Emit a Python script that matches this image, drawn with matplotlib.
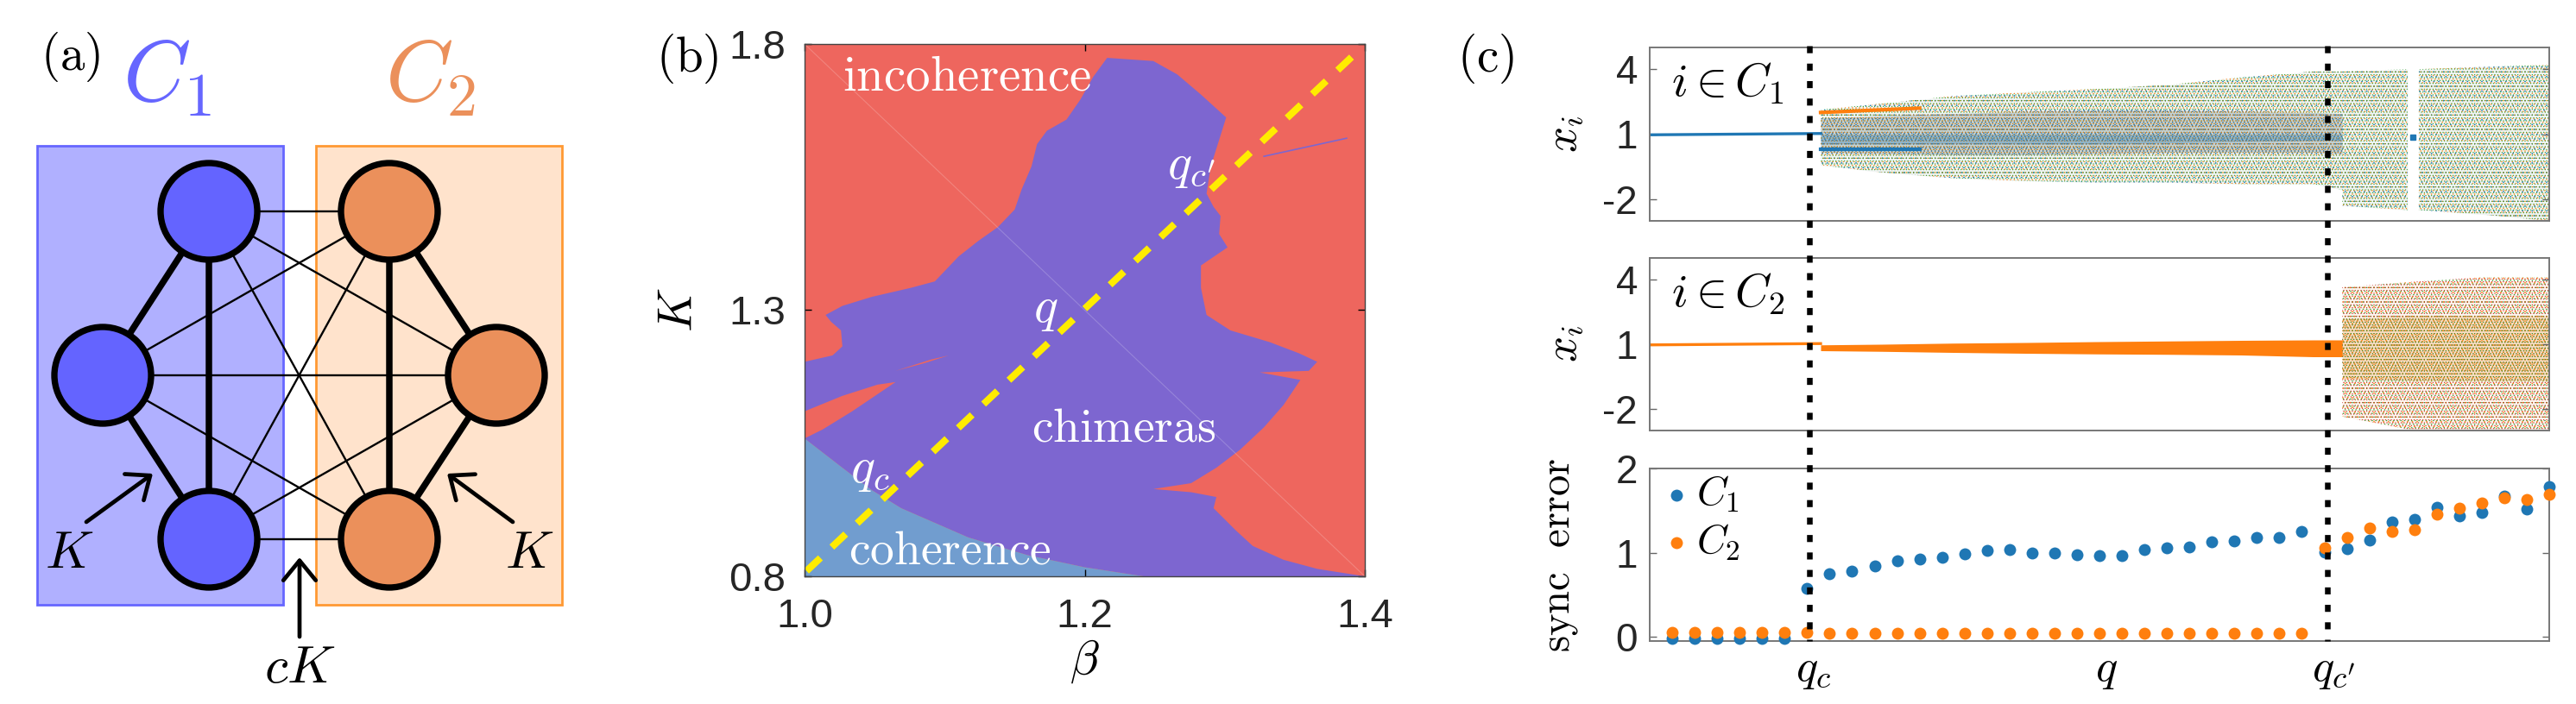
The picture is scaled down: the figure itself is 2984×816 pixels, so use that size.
import numpy as np
import matplotlib
matplotlib.use("Agg")
import matplotlib.pyplot as plt
from matplotlib.patches import Circle, Rectangle

W = 2984
H = 816
BLUE = "#1f77b4"
ORANGE = "#ff7f0e"
GREEN = "#2ca02c"
RED = "#d62728"

# panel (a): network drawn in figure pixels
C1_NODES = [(242, 245), (119, 435), (242, 625)]
C2_NODES = [(451, 245), (575, 435), (451, 625)]
THICK_EDGES = [(0, 1), (0, 2), (1, 2)]

# panel (b): region outlines (beta, K)
chimera_beta = [1.000, 1.020, 1.027, 1.026, 1.019, 1.015, 1.027, 1.048, 1.076, 1.093, 1.110, 1.124,
                1.138, 1.150, 1.155, 1.162, 1.166, 1.173, 1.187, 1.197, 1.206, 1.216, 1.249, 1.266,
                1.283, 1.301, 1.296, 1.290, 1.287, 1.292, 1.297, 1.296, 1.302, 1.283, 1.283, 1.287,
                1.304, 1.332, 1.353, 1.366, 1.360, 1.325, 1.354, 1.342, 1.328, 1.311, 1.294, 1.276,
                1.249, 1.276, 1.294, 1.292, 1.308, 1.320, 1.342, 1.366, 1.400, 1.242]
chimera_K = [1.203, 1.215, 1.232, 1.262, 1.278, 1.291, 1.308, 1.325, 1.342, 1.354, 1.401, 1.430,
             1.456, 1.489, 1.527, 1.570, 1.612, 1.637, 1.658, 1.696, 1.738, 1.774, 1.768, 1.743,
             1.705, 1.662, 1.620, 1.570, 1.519, 1.494, 1.477, 1.443, 1.418, 1.384, 1.342, 1.291,
             1.262, 1.240, 1.219, 1.203, 1.186, 1.183, 1.169, 1.122, 1.080, 1.038, 1.004, 0.975,
             0.964, 0.958, 0.949, 0.928, 0.886, 0.857, 0.831, 0.814, 0.800, 0.800]
coherence_beta = [1.000, 1.027, 1.048, 1.069, 1.117, 1.159, 1.200, 1.242, 1.000]
coherence_K = [1.059, 1.004, 0.962, 0.928, 0.873, 0.840, 0.817, 0.800, 0.800]
wedge_beta = [1.000, 1.013, 1.034, 1.065, 1.052, 1.027, 1.000]
wedge_K = [1.059, 1.076, 1.110, 1.165, 1.160, 1.139, 1.110]
sliver_beta = [1.065, 1.090, 1.103, 1.085]
sliver_K = [1.186, 1.207, 1.215, 1.200]
spur_beta = [1.328, 1.387]
spur_K = [1.589, 1.623]
route_beta = [1.0014, 1.3944]
route_K = [0.810, 1.785]

# panel (c): outer limits and denser core of the x_i clouds, by q position
c1_q = [7.6, 10.3, 13.5, 16.7, 19.9, 23.1, 26.3, 29.5, 30.8]
c1_top = [2.13, 2.41, 2.76, 2.93, 3.09, 3.28, 3.62, 3.89, 3.89]
c1_bottom = [-0.43, -0.76, -1.03, -1.16, -1.23, -1.23, -1.30, -1.30, -1.57]
c1_core_top = [1.75, 1.85, 1.95, 2.05, 2.10, 2.10, 2.05, 2.00, 1.95]
c1_core_bottom = [0.15, 0.10, 0.05, 0.05, 0.10, 0.15, 0.15, 0.15, 0.10]
c1_mid_top = [1.00, 1.00, 1.00, 1.00, 1.00, 1.00, 1.00, 1.00, 1.00]
c1_mid_bottom = [0.55, 0.55, 0.55, 0.55, 0.55, 0.60, 0.65, 0.70, 0.70]
c1_late_q = [30.8, 33.7]
c1_late_top = [3.90, 4.00]
c1_late_bottom = [-2.30, -2.50]
c1_last_q = [34.2, 37.0, 40.0]
c1_last_top = [4.00, 4.10, 4.20]
c1_last_bottom = [-2.50, -2.70, -3.00]
strand_q = [7.6, 12.0]
strand_high = [2.00, 2.20]
strand_low = [0.30, 0.30]
blob_q = [33.95]
blob_x = [0.85]
c2_q = [7.6, 10.3, 13.5, 16.7, 19.9, 23.1, 26.3, 29.5, 30.8]
c2_top = [0.97, 1.00, 1.05, 1.08, 1.12, 1.15, 1.18, 1.20, 1.20]
c2_bottom = [0.70, 0.67, 0.62, 0.58, 0.55, 0.53, 0.50, 0.42, 0.42]
c2_late_q = [30.8, 34.0, 37.0, 40.0]
c2_late_top = [3.65, 3.90, 4.10, 4.10]
c2_late_bottom = [-2.35, -3.00, -3.00, -3.00]
c2_core_top = [2.20, 2.30, 2.30, 2.30]
c2_core_bottom = [-0.60, -0.70, -0.70, -0.70]
flat_q = [0.0, 7.6]
flat_c1 = [0.97, 1.03]
flat_c2 = [0.97, 1.03]

# panel (c): synchronization error
sync_q = list(range(1, 41))
sync_c1 = [-0.02, -0.02, -0.02, -0.02, -0.02, -0.02, 0.58, 0.75, 0.78, 0.84,
           0.90, 0.92, 0.94, 0.985, 1.03, 1.035, 1.00, 0.995, 0.97, 0.96,
           0.96, 1.04, 1.06, 1.07, 1.13, 1.14, 1.175, 1.18, 1.25, 1.01,
           1.045, 1.15, 1.36, 1.40, 1.54, 1.44, 1.475, 1.67, 1.52, 1.78]
sync_c2 = [0.05, 0.05, 0.05, 0.05, 0.05, 0.05, 0.05, 0.04, 0.04, 0.04,
           0.04, 0.04, 0.04, 0.04, 0.04, 0.04, 0.04, 0.04, 0.04, 0.04,
           0.04, 0.04, 0.04, 0.04, 0.04, 0.04, 0.04, 0.04, 0.04, 1.055,
           1.18, 1.295, 1.25, 1.27, 1.455, 1.525, 1.585, 1.65, 1.635, 1.695]
q_marks = [7.3, 20.3, 30.4]
q_labels = ["$q_c$", "$q$", "$q_{c'}$"]

plt.rcParams["font.family"] = ["Liberation Sans", "DejaVu Sans"]
plt.rcParams["mathtext.fontset"] = "cm"
plt.rcParams["hatch.linewidth"] = 0.4


# axes from a box given in figure pixels
def box(left, top, right, bottom):
    return [left / W, 1 - bottom / H, (right - left) / W, (bottom - top) / H]


# the clouds are too dense to read dot by dot, so each is a tinted band with dotted hatching
def cloud(ax, q, top, bottom, tint, alpha, colors, hatches):
    ax.fill_between(q, bottom, top, color=tint, alpha=alpha, linewidth=0)
    for color, hatch in zip(colors, hatches):
        ax.fill_between(q, bottom, top, facecolor="none", edgecolor=color, hatch=hatch, linewidth=0)


fig = plt.figure(figsize=(W / 100, H / 100), dpi=100)

# (a)
over = fig.add_axes([0, 0, 1, 1])
over.set_xlim(0, W)
over.set_ylim(H, 0)
over.axis("off")
over.add_patch(Rectangle((43, 169), 285, 532, facecolor="#b0b0ff", edgecolor="#6666ff", linewidth=2))
over.add_patch(Rectangle((366, 169), 285, 532, facecolor="#ffe3cc", edgecolor="#ff9933", linewidth=2))
for a in C1_NODES:
    for b in C2_NODES:
        over.plot([a[0], b[0]], [a[1], b[1]], color="black", linewidth=1.7, zorder=2)
for nodes in (C1_NODES, C2_NODES):
    for i, j in THICK_EDGES:
        over.plot([nodes[i][0], nodes[j][0]], [nodes[i][1], nodes[j][1]], color="black", linewidth=5.4, zorder=2)
for nodes, color in ((C1_NODES, "#6464ff"), (C2_NODES, "#eb905b")):
    for p in nodes:
        over.add_patch(Circle(p, 56, facecolor=color, edgecolor="black", linewidth=5.3, zorder=3))

for start, end in (((100, 605), (177, 549)), ((594, 605), (518, 549)), ((347, 738), (347, 646))):
    over.annotate("", xy=end, xytext=start,
                  arrowprops=dict(arrowstyle="->,head_length=0.55,head_width=0.45", color="black",
                                  linewidth=3.4, mutation_scale=30, shrinkA=0, shrinkB=0))

over.text(82, 66, r"$\mathrm{(a)}$", fontsize=41, ha="center", va="center")
over.text(193, 92, "$C_1$", fontsize=72, color="#6666ff", ha="center", va="center")
over.text(498, 92, "$C_2$", fontsize=72, color="#eb905b", ha="center", va="center")
over.text(80, 643, "$K$", fontsize=44, ha="center", va="center")
over.text(613, 643, "$K$", fontsize=44, ha="center", va="center")
over.text(347, 776, "$cK$", fontsize=44, ha="center", va="center")
over.text(796, 68, r"$\mathrm{(b)}$", fontsize=41, ha="center", va="center")
over.text(1721, 68, r"$\mathrm{(c)}$", fontsize=41, ha="center", va="center")

# (b)
ax_b = fig.add_axes(box(932, 51, 1581, 668))
ax_b.set_facecolor("#ee665e")
ax_b.fill(chimera_beta + coherence_beta[6:0:-1] + wedge_beta, chimera_K + coherence_K[6:0:-1] + wedge_K,
          color="#7d66d0", linewidth=0)
ax_b.fill(coherence_beta, coherence_K, color="#719dcf", linewidth=0)
ax_b.fill(sliver_beta, sliver_K, color="#ee665e", linewidth=0)
ax_b.plot(spur_beta, spur_K, color="#7d66d0", linewidth=1.2)
ax_b.plot([1.0, 1.4], [1.8, 0.8], color="white", alpha=0.2, linewidth=0.8)
ax_b.plot(route_beta, route_K, color="#ffec00", linewidth=5.8, linestyle=(0, (2.75, 2.25)))
ax_b.set_xlim(1.0, 1.4)
ax_b.set_ylim(0.8, 1.8)
ax_b.set_xticks([1.0, 1.2, 1.4])
ax_b.set_yticks([0.8, 1.3, 1.8])
ax_b.set_xticklabels(["1.0", "1.2", "1.4"])
ax_b.set_yticklabels(["0.8", "1.3", "1.8"])
ax_b.tick_params(direction="in", top=True, right=True, length=6, width=1, labelsize=34,
                 labelcolor="#262626")
ax_b.tick_params(axis="x", pad=18)
ax_b.tick_params(axis="y", pad=16)
ax_b.set_xlabel(r"$\beta$", fontsize=40, labelpad=2)
ax_b.set_ylabel("$K$", fontsize=40, labelpad=22)
for spine in ax_b.spines.values():
    spine.set_color("#444444")
    spine.set_linewidth(1)
for x, y, label, size in ((1.116, 1.738, r"$\mathrm{incoherence}$", 41), (1.228, 1.076, r"$\mathrm{chimeras}$", 40),
                          (1.104, 0.846, r"$\mathrm{coherence}$", 40), (1.172, 1.30, "$q$", 42),
                          (1.047, 1.00, "$q_c$", 42), (1.276, 1.57, "$q_{c'}$", 42)):
    ax_b.text(x, y, label, color="white", fontsize=size, ha="center", va="center")

# (c) top
ax_1 = fig.add_axes(box(1911, 55, 2953, 256))
ax_1.plot(flat_q, flat_c1, color=BLUE, linewidth=2.4)
cloud(ax_1, c1_q, c1_top, c1_bottom, "#9db5a8", 0.15, [BLUE, ORANGE, GREEN], ["...", "....", "....."])
cloud(ax_1, c1_q, c1_core_top, c1_core_bottom, "#6f8f94", 0.35, [BLUE, ORANGE], ["....", "....."])
ax_1.fill_between(c1_q, c1_mid_bottom, c1_mid_top, color=BLUE, alpha=0.3, linewidth=0)
ax_1.plot(strand_q, strand_high, color=ORANGE, linewidth=3)
ax_1.plot(strand_q, strand_low, color=BLUE, linewidth=3)
cloud(ax_1, c1_late_q, c1_late_top, c1_late_bottom, "#9db5a8", 0.15, [BLUE, ORANGE, GREEN], ["...", "....", "....."])
cloud(ax_1, c1_last_q, c1_last_top, c1_last_bottom, "#9db5a8", 0.15, [BLUE, ORANGE, GREEN], ["...", "....", "....."])
ax_1.plot(blob_q, blob_x, "s", color=BLUE, markersize=5)
ax_1.text(0.087, 0.79, r"$i\in C_1$", transform=ax_1.transAxes, fontsize=39, ha="center", va="center")

# (c) middle
ax_2 = fig.add_axes(box(1911, 299, 2953, 499))
ax_2.plot(flat_q, flat_c2, color=ORANGE, linewidth=2.4)
ax_2.fill_between(c2_q, c2_bottom, c2_top, color=ORANGE, linewidth=0)
cloud(ax_2, c2_late_q, c2_late_top, c2_late_bottom, "#e3bd8c", 0.15, [ORANGE, GREEN, RED], ["...", "....", "....."])
cloud(ax_2, c2_late_q, c2_core_top, c2_core_bottom, "#ef9f55", 0.3, [ORANGE, GREEN], ["....", "....."])
ax_2.text(0.087, 0.79, r"$i\in C_2$", transform=ax_2.transAxes, fontsize=39, ha="center", va="center")

for ax in (ax_1, ax_2):
    ax.set_ylim(-3, 5)
    ax.set_yticks([-2, 1, 4])
    ax.set_yticklabels(["-2", "1", "4"])
    ax.set_ylabel("$x_i$", fontsize=38, labelpad=14)

# (c) bottom
ax_3 = fig.add_axes(box(1911, 543, 2953, 743))
ax_3.scatter(sync_q, sync_c1, s=100, color=BLUE, linewidth=0, clip_on=False, label="$C_1$", zorder=3)
ax_3.scatter(sync_q, sync_c2, s=100, color=ORANGE, linewidth=0, clip_on=False, label="$C_2$", zorder=4)
ax_3.set_ylim(-0.05, 2)
ax_3.set_yticks([0, 1, 2])
ax_3.set_yticklabels(["0", "1", "2"])
ax_3.set_ylabel(r"$\mathrm{sync\ \ error}$", fontsize=35, labelpad=30)
ax_3.legend(loc="upper left", frameon=False, fontsize=34, handlelength=1, handletextpad=0, borderpad=0,
            labelspacing=0.2, borderaxespad=0.15)

for ax in (ax_1, ax_2, ax_3):
    ax.set_xlim(0, 40)
    ax.set_xticks(q_marks)
    ax.set_xticklabels(q_labels if ax is ax_3 else [])
    ax.tick_params(axis="x", length=0, labelsize=38, pad=6)
    ax.tick_params(axis="y", direction="in", right=True, length=6, width=1, color="#666666",
                   labelsize=33, labelcolor="#262626", pad=10)
    for spine in ax.spines.values():
        spine.set_color("#777777")
        spine.set_linewidth(1.4)

# critical points, dashed through all three panels
for x in (2096, 2696):
    over.plot([x, x], [53, 743], color="black", linewidth=4.7, linestyle=(0, (1.25, 1.85)),
              dash_capstyle="butt", zorder=10)
over.set_zorder(5)
over.patch.set_alpha(0)

fig.savefig("out.png", dpi=100)
